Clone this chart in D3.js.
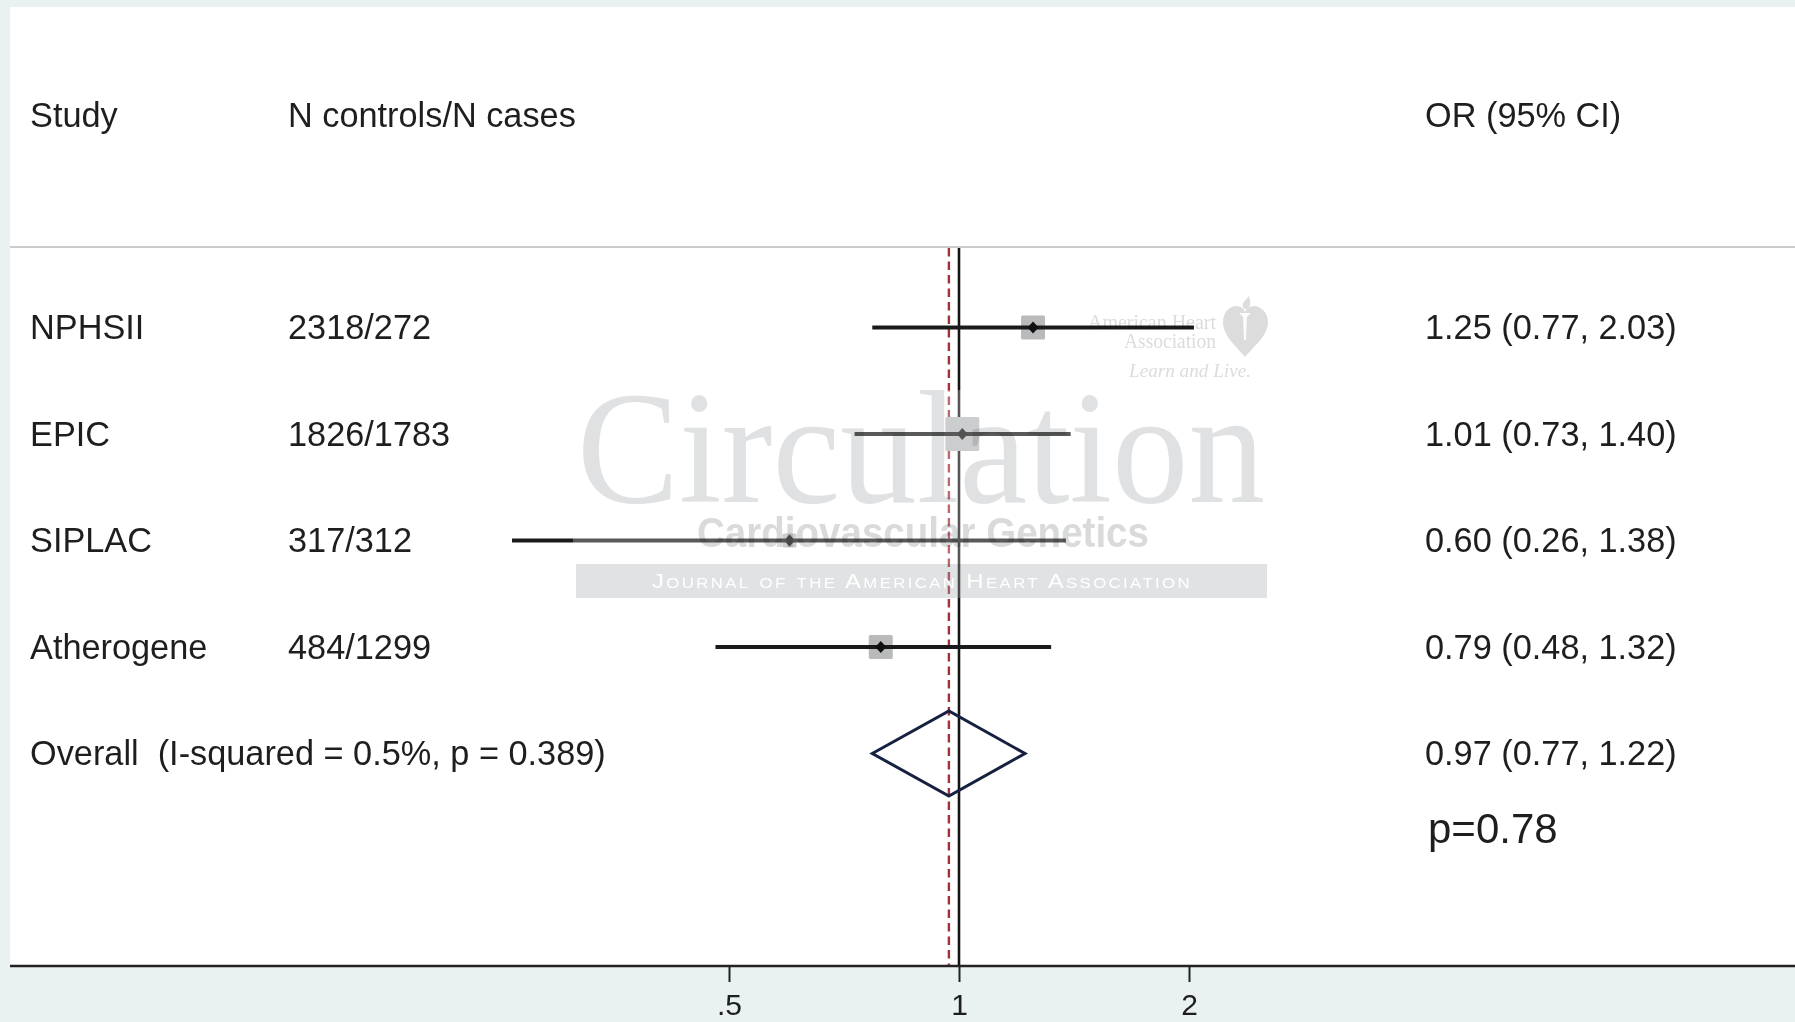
<!DOCTYPE html>
<html>
<head>
<meta charset="utf-8">
<script src="https://cdn.jsdelivr.net/npm/d3@7"></script>
<style>
  html, body { margin: 0; padding: 0; background: #e9f2f1; }
  svg { display: block; }
  text { font-family: "Liberation Sans", Arial, Helvetica, sans-serif; white-space: pre; }
  text.serif { font-family: "Liberation Serif", "Times New Roman", serif; }
</style>
</head>
<body>
<svg id="chart" width="1795" height="1022"></svg>
<script>
// ---- data ----
const studies   = ["NPHSII", "EPIC", "SIPLAC", "Atherogene"];
const nCounts   = ["2318/272", "1826/1783", "317/312", "484/1299"];
const orValues  = [1.25, 1.01, 0.60, 0.79];
const ciLower   = [0.77, 0.73, 0.26, 0.48];
const ciUpper   = [2.03, 1.40, 1.38, 1.32];
const weights   = [23.0, 46.0, 8.0, 23.0];
const overallLabel = "Overall  (I-squared = 0.5%, p = 0.389)";
const overallOR = [0.97, 0.77, 1.22]; // estimate, lower, upper
const pText = "p=0.78";
const headers = ["Study", "N controls/N cases", "OR (95% CI)"];
const tickValues = [0.5, 1, 2];
const tickLabels = [".5", "1", "2"];

// ---- layout ----
const W = 1795, H = 1022;
const panel = {x0: 10, y0: 7, x1: 1795, y1: 966};
const colX = {study: 30, n: 288, or: 1425};
const FS = 34.3;
const svg = d3.select("#chart");

const x = d3.scaleLog().domain([0.5, 2]).range([729, 1189]);
const y = d3.scaleLinear().domain([0, 4]).range([327.5, 753.5]);
const fmt = d3.format(".2f");
const boxK = 5.0;

// background panel
svg.append("rect").attr("x", 0).attr("y", 0).attr("width", W).attr("height", H).attr("fill", "#e9f2f1");
svg.append("rect").attr("x", panel.x0).attr("y", panel.y0)
  .attr("width", panel.x1 - panel.x0).attr("height", panel.y1 - panel.y0).attr("fill", "#ffffff");

// headers
const hdrY = 127;
[colX.study, colX.n, colX.or].forEach((cx, i) => {
  svg.append("text").attr("x", cx).attr("y", hdrY).attr("font-size", FS).attr("fill", "#1e1e1e").text(headers[i]);
});

// header separator
svg.append("line").attr("x1", panel.x0).attr("x2", panel.x1).attr("y1", 247).attr("y2", 247)
  .attr("stroke", "#c9cbcc").attr("stroke-width", 2);

// reference lines
svg.append("line").attr("x1", x(1)).attr("x2", x(1)).attr("y1", 248).attr("y2", panel.y1)
  .attr("stroke", "#151515").attr("stroke-width", 2.6);
svg.append("line").attr("x1", x(overallOR[0])).attr("x2", x(overallOR[0])).attr("y1", 248).attr("y2", panel.y1)
  .attr("stroke", "#a3303a").attr("stroke-width", 2.4).attr("stroke-dasharray", "8.5,5");

// study rows
const rows = studies.map((s, i) => ({s, n: nCounts[i], or: orValues[i], lo: ciLower[i], hi: ciUpper[i], w: weights[i], i}));
const g = svg.append("g");
rows.forEach(d => {
  const cy = y(d.i);
  const side = boxK * Math.sqrt(d.w);
  g.append("rect").attr("x", x(d.or) - side / 2).attr("y", cy - side / 2)
    .attr("width", side).attr("height", side).attr("rx", 1.5).attr("fill", "#b9babb");
  g.append("line").attr("x1", x(d.lo)).attr("x2", x(d.hi)).attr("y1", cy).attr("y2", cy)
    .attr("stroke", "#1a1a1a").attr("stroke-width", 3.8);
  const px = x(d.or);
  g.append("path").attr("d", `M${px - 5.5},${cy} L${px},${cy - 6} L${px + 5.5},${cy} L${px},${cy + 6} Z`)
    .attr("fill", "#111");
  svg.append("text").attr("x", colX.study).attr("y", cy + 11.5).attr("font-size", FS).attr("fill", "#1e1e1e").text(d.s);
  svg.append("text").attr("x", colX.n).attr("y", cy + 11.5).attr("font-size", FS).attr("fill", "#1e1e1e").text(d.n);
  svg.append("text").attr("x", colX.or).attr("y", cy + 11.5).attr("font-size", FS).attr("fill", "#1e1e1e")
    .text(`${fmt(d.or)} (${fmt(d.lo)}, ${fmt(d.hi)})`);
});

// overall diamond
const oy = y(4);
svg.append("path")
  .attr("d", `M${x(overallOR[1])},${oy} L${x(overallOR[0])},${oy - 42.5} L${x(overallOR[2])},${oy} L${x(overallOR[0])},${oy + 42.5} Z`)
  .attr("fill", "none").attr("stroke", "#16203f").attr("stroke-width", 3).attr("stroke-linejoin", "miter");
svg.append("text").attr("x", colX.study).attr("y", oy + 11.5).attr("font-size", FS).attr("fill", "#1e1e1e").text(overallLabel);
svg.append("text").attr("x", colX.or).attr("y", oy + 11.5).attr("font-size", FS).attr("fill", "#1e1e1e")
  .text(`${fmt(overallOR[0])} (${fmt(overallOR[1])}, ${fmt(overallOR[2])})`);
svg.append("text").attr("x", 1428).attr("y", 843).attr("font-size", 42).attr("fill", "#1e1e1e").text(pText);

// watermark: lighten region, then multiply text
svg.append("rect").attr("x", 573).attr("y", 390).attr("width", 695).attr("height", 208)
  .attr("fill", "#ffffff").attr("opacity", 0.28);
const wm = svg.append("g").style("mix-blend-mode", "multiply");
wm.append("text").attr("class", "serif").attr("x", 577).attr("y", 502)
  .attr("font-size", 160).attr("fill", "#e0e1e2").attr("textLength", 688).attr("lengthAdjust", "spacingAndGlyphs")
  .text("Circulation");
wm.append("text").attr("x", 697).attr("y", 547).attr("font-size", 42).attr("font-weight", "bold")
  .attr("fill", "#d9dadb").attr("textLength", 452).attr("lengthAdjust", "spacingAndGlyphs")
  .text("Cardiovascular Genetics");
wm.append("rect").attr("x", 576).attr("y", 564).attr("width", 691).attr("height", 34).attr("fill", "#e1e2e3");
svg.append("text").attr("x", 652).attr("y", 588).attr("font-size", 20).style("font-variant", "small-caps")
  .attr("fill", "#ffffff").attr("letter-spacing", 2).attr("textLength", 540).attr("lengthAdjust", "spacingAndGlyphs")
  .text("Journal of the American Heart Association");
// AHA logo
wm.append("text").attr("class", "serif").attr("x", 1088).attr("y", 329).attr("font-size", 21)
  .attr("fill", "#dcdcdc").attr("textLength", 128).attr("lengthAdjust", "spacingAndGlyphs").text("American Heart");
wm.append("text").attr("class", "serif").attr("x", 1124).attr("y", 348).attr("font-size", 21)
  .attr("fill", "#dcdcdc").attr("textLength", 92).attr("lengthAdjust", "spacingAndGlyphs").text("Association");
wm.append("text").attr("class", "serif").attr("x", 1129).attr("y", 377).attr("font-size", 19)
  .attr("font-style", "italic").attr("fill", "#dcdcdc").attr("textLength", 122).attr("lengthAdjust", "spacingAndGlyphs").text("Learn and Live.");
wm.append("path")
  .attr("d", "M1245,357 C1236,346 1223,336 1223,322 C1223,312 1230,306 1236,306 C1241,306 1244,309 1245,312 C1246,309 1249,306 1254,306 C1260,306 1268,312 1268,322 C1268,336 1254,346 1245,357 Z")
  .attr("fill", "#dcdcdc");
svg.append("path").attr("d", "M1239,313 L1251,313 L1247,317 L1246,340 L1244,340 L1243,317 Z").attr("fill", "#ffffff").attr("opacity", 0.9);
wm.append("path").attr("d", "M1244,309 C1240,303 1246,300 1249,296 C1250,301 1252,305 1247,309 Z").attr("fill", "#dcdcdc");

// x axis
svg.append("rect").attr("x", 0).attr("y", panel.y1).attr("width", W).attr("height", H - panel.y1).attr("fill", "#e9f2f1");
const axis = d3.axisBottom(x).tickValues(tickValues).tickFormat((d, i) => tickLabels[i]).tickSize(16).tickPadding(12);
const ag = svg.append("g").attr("transform", `translate(0,${panel.y1})`).call(axis);
ag.select(".domain").remove();
ag.selectAll(".tick line").attr("stroke", "#222").attr("stroke-width", 2);
ag.selectAll(".tick text").attr("font-size", 30).attr("fill", "#1e1e1e")
  .style("font-family", "'Liberation Sans', Arial, sans-serif");
svg.append("line").attr("x1", panel.x0).attr("x2", panel.x1).attr("y1", panel.y1).attr("y2", panel.y1)
  .attr("stroke", "#222").attr("stroke-width", 2.6);
</script>
</body>
</html>
